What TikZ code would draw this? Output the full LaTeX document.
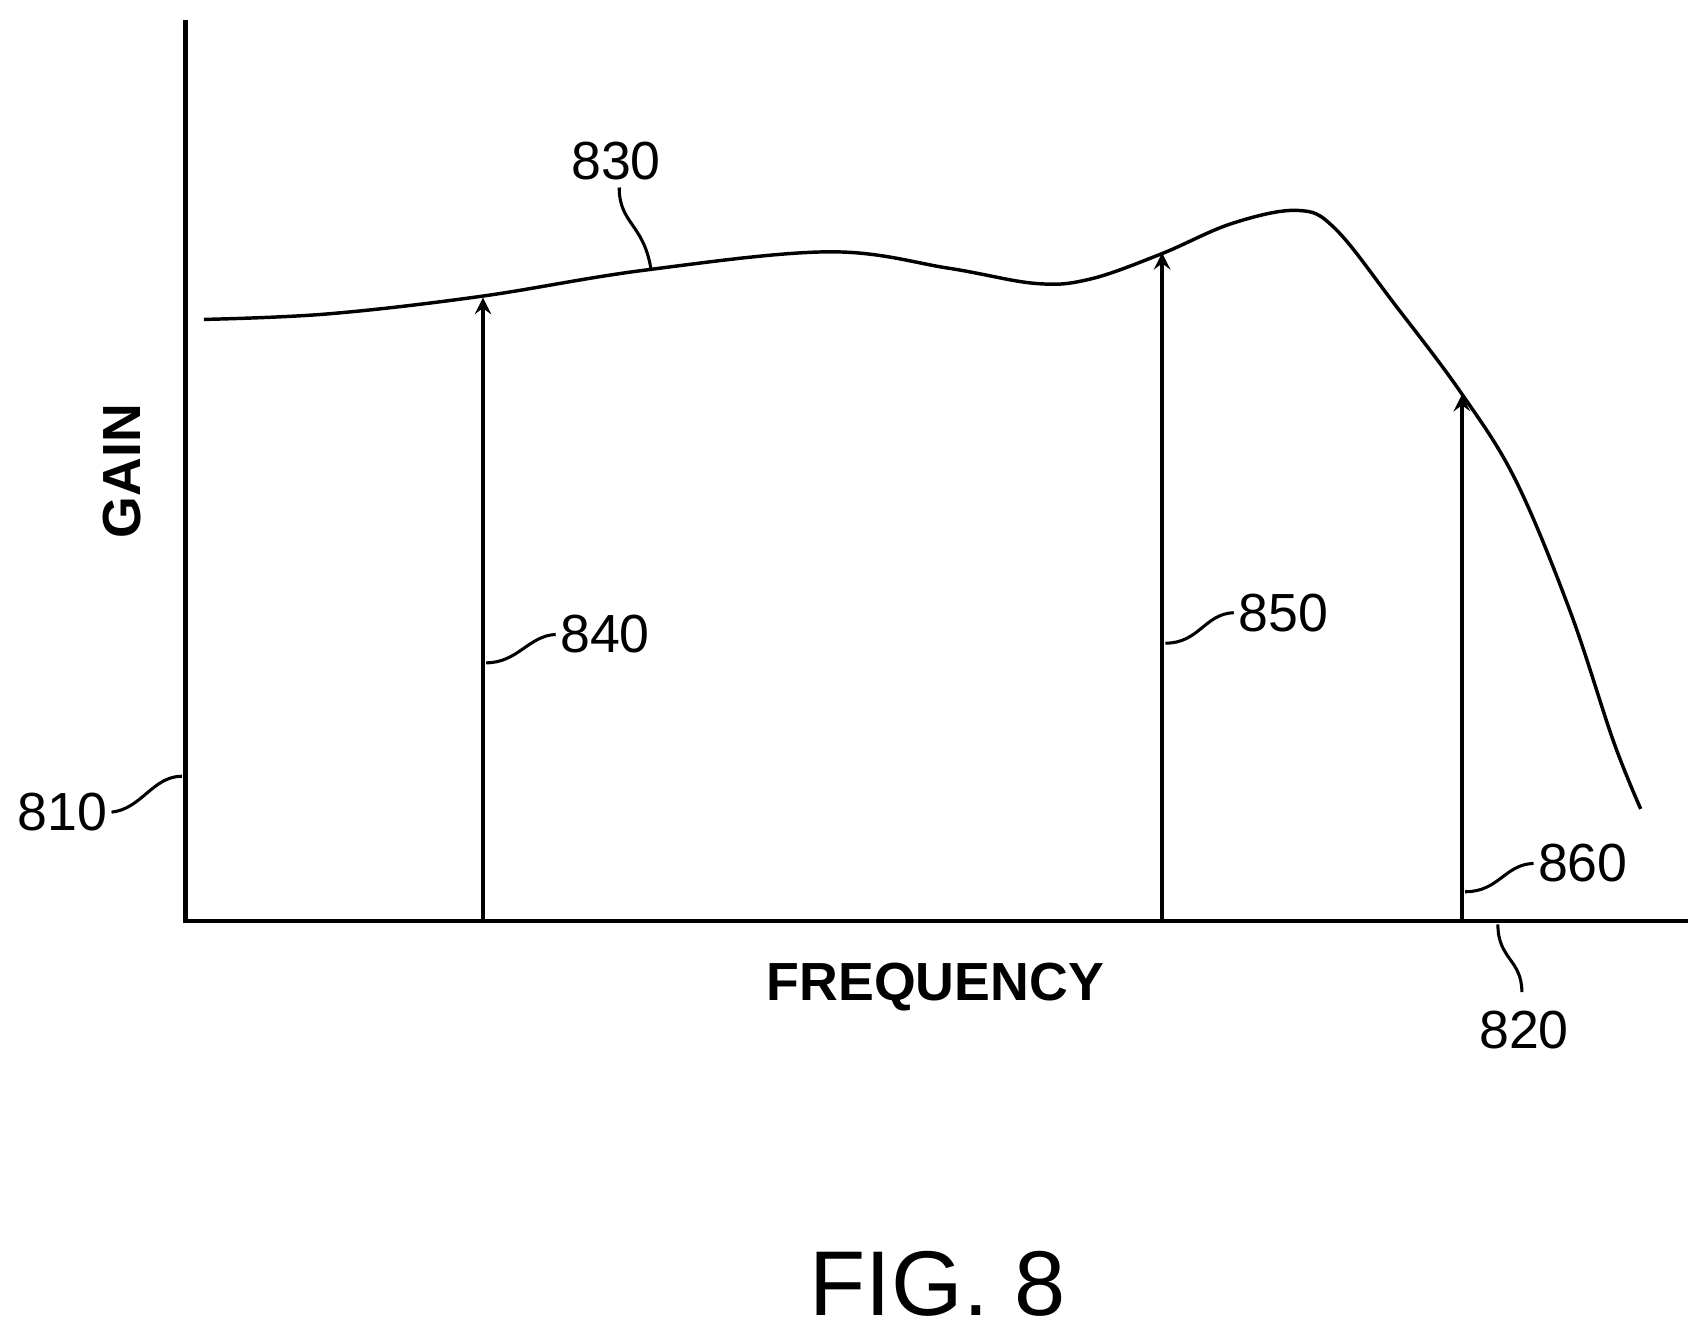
\documentclass[tikz,border=0pt]{standalone}
\usepackage{fontspec}
\setmainfont{Liberation Sans}
\usetikzlibrary{positioning,arrows}
\begin{document}
\begin{tikzpicture}[x=0.01cm,y=-0.01cm,
    >=stealth,
    axis/.style={line width=1.2pt},
    curve/.style={line width=0.9pt},
    sig/.style={->, line width=0.9pt},
    lead/.style={line width=0.8pt},
    num/.style={font=\fontsize{14}{16}\selectfont, inner sep=1pt},
    ttl/.style={font=\fontsize{14}{16}\selectfont\bfseries}
]
    \useasboundingbox (0,0) rectangle (1564,1221);
    % axes
    \coordinate (o)  at (170,845);
    \coordinate (yt) at (170,18);
    \coordinate (xr) at (1548,845);
    \draw[axis] (yt) -- (o) -- (xr);

    % gain curve
    \draw[curve] plot[smooth, tension=0.6] coordinates {
      (187,293) (300,288) (440,272) (590,248) (760,231) (870,246)
      (950,260) (1000,256) (1065,233) (1130,205) (1190,193) (1225,210)
      (1280,280) (1340,360) (1390,440) (1440,560) (1480,680) (1505,742)};

    % tones
    \coordinate (a1) at (443,845);  \coordinate (t1) at (443,273);
    \coordinate (a2) at (1066,845); \coordinate (t2) at (1066,232);
    \coordinate (a3) at (1341,845); \coordinate (t3) at (1341,362);
    \draw[sig] (a1) -- (t1);
    \draw[sig] (a2) -- (t2);
    \draw[sig] (a3) -- (t3);

    % labels
    \node[num] (l840) at (555,582) {840};
    \node[num] (l850) at (1177,562) {850};
    \node[num] (l860) at (1452,792) {860};
    \node[num] (l810) at (57,745)  {810};
    \node[num] (l820) at (1398,945) {820};
    \node[num] (l830) at (565,148) {830};
    \node[ttl, rotate=90] (gain) at (112,432) {GAIN};
    \node[ttl] (freq) at (858,905) {FREQUENCY};
    \node[font=\fontsize{24}{28}\selectfont] (fig) at (860,1178) {FIG. 8};

    % leaders
    \draw[lead] (446,608) .. controls (475,608) and (485,583) .. (l840.west);
    \draw[lead] (1069,590) .. controls (1100,590) and (1105,563) .. (l850.west);
    \draw[lead] (1344,818) .. controls (1375,818) and (1380,793) .. (l860.west);
    \draw[lead] (l810.east) .. controls (130,742) and (140,712) .. (167,712);
    \draw[lead] (1374,848) .. controls (1374,880) and (1396,880) .. (1396,910);
    \draw[lead] (597,246) .. controls (590,205) and (568,205) .. (568,172);
\end{tikzpicture}
\end{document}
